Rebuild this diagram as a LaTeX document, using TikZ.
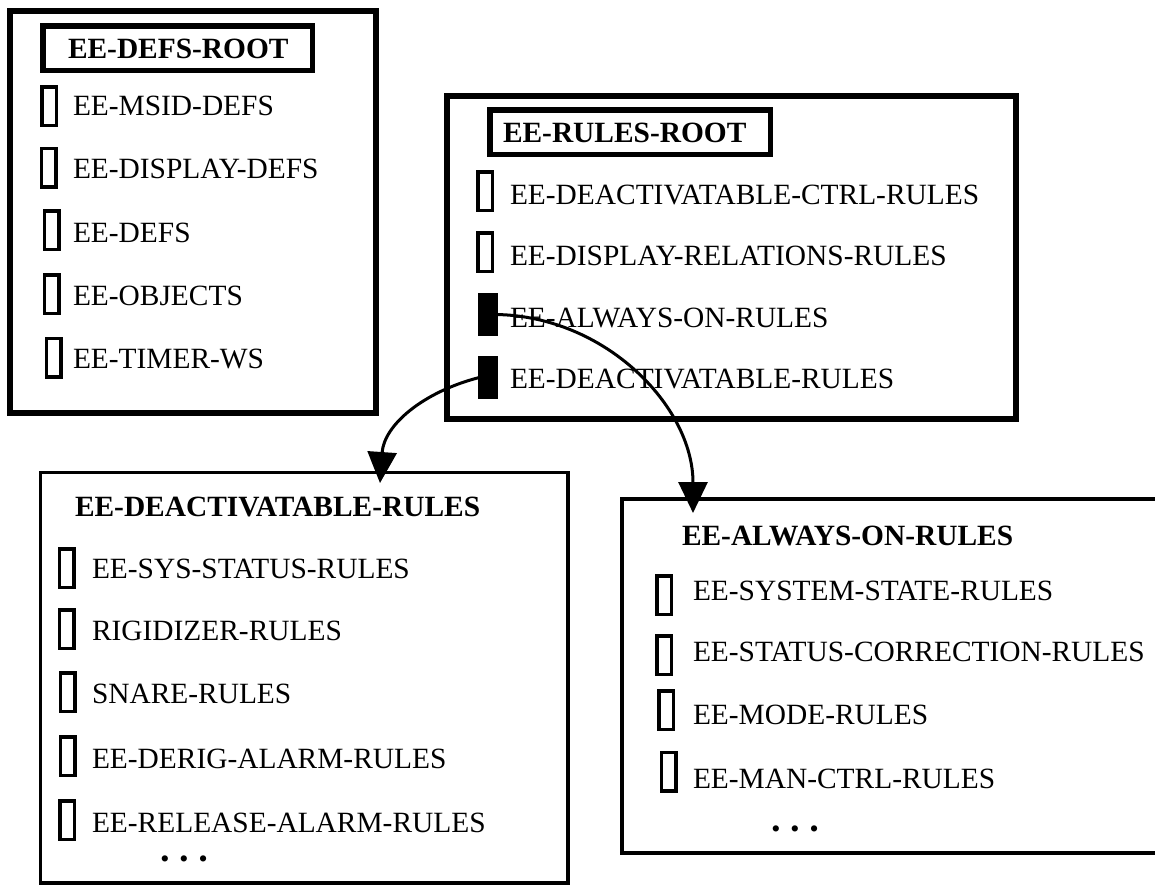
\documentclass[tikz,border=0pt]{standalone}
\usepackage{fontspec}
\setmainfont{Liberation Serif}
\usetikzlibrary{arrows.meta}
\begin{document}
\begin{tikzpicture}[x=1pt,y=-1pt,
  txt/.style={inner sep=0pt, outer sep=0pt, anchor=base west, font=\fontsize{29.4}{34}\selectfont},
  headtxt/.style={txt, font=\fontsize{29.4}{34}\selectfont\bfseries},
  bigbox/.style={draw, line width=6pt, inner sep=0pt, outer sep=0pt},
  subbox/.style={draw, line width=3.5pt, inner sep=0pt, outer sep=0pt},
  rootbox/.style={draw, line width=5.5pt, inner sep=0pt, outer sep=0pt},
  itembox/.style={draw, line width=3.5pt, minimum width=14.5pt, minimum height=38.5pt, inner sep=0pt, outer sep=0pt},
  onbox/.style={draw, fill=black, line width=3.5pt, minimum width=16.5pt, minimum height=39.5pt, inner sep=0pt, outer sep=0pt},
  dots/.style={inner sep=0pt, outer sep=0pt, anchor=center, font=\fontsize{26}{30}\selectfont},
  conn/.style={line width=3pt, -{Triangle[length=31pt,width=29pt]}}
]
\useasboundingbox[fill=white] (0,0) rectangle (1155,886);

% ---- EE-DEFS-ROOT panel
\node[bigbox, minimum width=366pt, minimum height=402.5pt] (defs) at (192.5,211.75) {};
\node[rootbox, minimum width=269.5pt, minimum height=44.5pt] (defsroot) at (177.5,48) {};
\node[headtxt] (defsroott) at (68,58) {EE-DEFS-ROOT};
\node[itembox] (d1) at (49,106) {};
\node[txt] (d1t) at (73,115) {EE-MSID-DEFS};
\node[itembox] (d2) at (48.5,167.5) {};
\node[txt] (d2t) at (73,178) {EE-DISPLAY-DEFS};
\node[itembox] (d3) at (51.5,230) {};
\node[txt] (d3t) at (73,242) {EE-DEFS};
\node[itembox] (d4) at (51.5,294) {};
\node[txt] (d4t) at (73,305) {EE-OBJECTS};
\node[itembox] (d5) at (53.5,357.5) {};
\node[txt] (d5t) at (73,368) {EE-TIMER-WS};

% ---- EE-RULES-ROOT panel
\node[bigbox, minimum width=569pt, minimum height=323.5pt] (rules) at (731,257.25) {};
\node[rootbox, minimum width=280.5pt, minimum height=44.5pt] (rulesroot) at (630,132) {};
\node[headtxt] (rulesroott) at (503,142) {EE-RULES-ROOT};
\node[itembox] (r1) at (485,191) {};
\node[txt] (r1t) at (510,204) {EE-DEACTIVATABLE-CTRL-RULES};
\node[itembox] (r2) at (485,252) {};
\node[txt] (r2t) at (510,265) {EE-DISPLAY-RELATIONS-RULES};
\node[onbox] (alw) at (487.5,314.5) {};
\node[txt] (alwt) at (510,327) {EE-ALWAYS-ON-RULES};
\node[onbox] (dea) at (487.5,377.5) {};
\node[txt] (deat) at (510,388) {EE-DEACTIVATABLE-RULES};

% ---- EE-DEACTIVATABLE-RULES panel
\node[subbox, minimum width=527.5pt, minimum height=410.5pt] (deabox) at (304.25,677.75) {};
\node[headtxt] (deah) at (75,516) {EE-DEACTIVATABLE-RULES};
\node[itembox] (a1) at (66.5,568) {};
\node[txt] (a1t) at (92,578) {EE-SYS-STATUS-RULES};
\node[itembox] (a2) at (66.5,629) {};
\node[txt] (a2t) at (92,640) {RIGIDIZER-RULES};
\node[itembox] (a3) at (67.5,692) {};
\node[txt] (a3t) at (92,703) {SNARE-RULES};
\node[itembox] (a4) at (67.5,756) {};
\node[txt] (a4t) at (92,768) {EE-DERIG-ALARM-RULES};
\node[itembox] (a5) at (67,820) {};
\node[txt] (a5t) at (92,832) {EE-RELEASE-ALARM-RULES};
\node[dots] (adots) at (184,862) {•\hspace{10pt}•\hspace{10pt}•};

% ---- EE-ALWAYS-ON-RULES panel (runs past the right edge)
\node[subbox, minimum width=558pt, minimum height=354pt] (alwbox) at (901,676) {};
\node[headtxt] (alwh) at (682,545) {EE-ALWAYS-ON-RULES};
\node[itembox] (b1) at (664,595) {};
\node[txt] (b1t) at (693,600) {EE-SYSTEM-STATE-RULES};
\node[itembox] (b2) at (664,655) {};
\node[txt] (b2t) at (693,661) {EE-STATUS-CORRECTION-RULES};
\node[itembox] (b3) at (666,710) {};
\node[txt] (b3t) at (693,724) {EE-MODE-RULES};
\node[itembox] (b4) at (668.5,771.5) {};
\node[txt] (b4t) at (693,788) {EE-MAN-CTRL-RULES};
\node[dots] (bdots) at (795,832) {•\hspace{10pt}•\hspace{10pt}•};

% ---- connectors
\coordinate (tipA) at (693,513);
\coordinate (tipB) at (380,483);
\draw[conn] (alw.east) .. controls (605,316) and (693,406) .. (tipA);
\draw[conn] (dea.west) .. controls (423,392) and (384,425) .. (tipB);
\end{tikzpicture}
\end{document}
